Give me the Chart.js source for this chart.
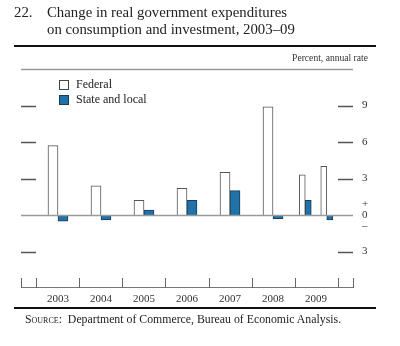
<!DOCTYPE html>
<html>
<head>
<meta charset="utf-8">
<script src="https://cdn.jsdelivr.net/npm/chart.js@4"></script>
<style>
  body { margin: 0; background: #fff; }
  #wrap { position: relative; width: 400px; height: 346px; font-family: "Liberation Serif", "DejaVu Serif", serif; color: #222; }
  #chart { position: absolute; left: 0; top: 0; }
  .title { position: absolute; top: 4px; font-size: 14.8px; line-height: 17px; }
  .rule { position: absolute; left: 14px; width: 362px; background: #111; }
  .unit { position: absolute; top: 52px; right: 32px; font-size: 9.6px; color: #333; }
  #legend { position: absolute; left: 59px; top: 77px; font-size: 12px; line-height: 15px; }
  #legend .item { display: flex; align-items: center; }
  #legend .box { width: 10px; height: 10px; margin-right: 7px; box-sizing: border-box; }
  .source { position: absolute; left: 25px; top: 312px; font-size: 11.8px; }
  .sc { font-variant: small-caps; }
</style>
</head>
<body>
<div id="wrap">
  <canvas id="chart" width="400" height="346"></canvas>
  <div class="title" style="left:14px">22.</div>
  <div class="title" style="left:47px">Change in real government expenditures<br>on consumption and investment, 2003–09</div>
  <div class="rule" style="top:45px;height:2px"></div>
  <div class="unit">Percent, annual rate</div>
  <div id="legend"></div>
  <div class="rule" style="top:307px;height:1.5px"></div>
  <div class="source"><span class="sc">Source</span>:&nbsp; Department of Commerce, Bureau of Economic Analysis.</div>
</div>
<script>
// Données annuelles 2003-2008
const years = [2003, 2004, 2005, 2006, 2007, 2008];
const federalAnnual = [5.7, 2.4, 1.2, 2.2, 3.5, 8.9];
const stateLocalAnnual = [-0.5, -0.4, 0.4, 1.2, 2.0, -0.3];

// 2009 par semestre (milieu de chaque semestre)
const halfYears = [2008.75, 2009.25];
const federalHalf = [3.3, 4.0];
const stateLocalHalf = [1.2, -0.4];

// Axes
const yearLabels = [2003, 2004, 2005, 2006, 2007, 2008, 2009];
const yTicks = [-3, 0, 3, 6, 9];

const seriesNames = ['Federal', 'State and local'];
const fedFill = '#ffffff', fedBorder = '#555555';
const slFill = '#1f73a8', slBorder = '#1a3d5c';

function points(xs, ys) {
    return xs.map(function(x, i) { return { x: x, y: ys[i] }; });
}

// Traits de décoration (lignes, graduations) dessinés avec les échelles
const decor = {
    id: 'decor',
    afterDatasetsDraw: function(chart) {
        const ctx = chart.ctx;
        const a = chart.chartArea;
        const xs = chart.scales.x;
        const ys = chart.scales.y;
        ctx.save();
        ctx.strokeStyle = '#9a9a9a';
        ctx.lineWidth = 1.5;
        [a.top, ys.getPixelForValue(0)].forEach(function(y) {
            ctx.beginPath();
            ctx.moveTo(a.left, Math.round(y) + 0.5);
            ctx.lineTo(a.right, Math.round(y) + 0.5);
            ctx.stroke();
        });
        ctx.strokeStyle = '#777';
        ctx.lineWidth = 1.2;
        ctx.beginPath();
        ctx.moveTo(a.left, a.bottom - 0.5);
        ctx.lineTo(a.right, a.bottom - 0.5);
        ctx.stroke();

        // graduations verticales entre les années
        const bounds = [xs.min, xs.max];
        yearLabels.forEach(function(y) { bounds.push(y - 0.5); });
        bounds.push(yearLabels[yearLabels.length - 1] + 0.5);
        ctx.strokeStyle = '#666';
        ctx.lineWidth = 1;
        bounds.forEach(function(v) {
            const px = Math.round(xs.getPixelForValue(v)) + 0.5;
            ctx.beginPath();
            ctx.moveTo(px, a.bottom - 10);
            ctx.lineTo(px, a.bottom);
            ctx.stroke();
        });

        // graduations horizontales gauche et droite
        ctx.strokeStyle = '#555';
        ctx.lineWidth = 1.3;
        yTicks.forEach(function(v) {
            if (v === 0) return;
            const py = Math.round(ys.getPixelForValue(v)) + 0.5;
            ctx.beginPath();
            ctx.moveTo(a.left, py);
            ctx.lineTo(a.left + 15, py);
            ctx.moveTo(a.right - 15, py);
            ctx.lineTo(a.right, py);
            ctx.stroke();
        });
        ctx.restore();
    }
};

const common = { borderWidth: 1, skipNull: true };

new Chart(document.getElementById('chart'), {
    type: 'bar',
    data: {
        datasets: [
            Object.assign({ label: seriesNames[0], data: points(years, federalAnnual), backgroundColor: fedFill, borderColor: fedBorder, barThickness: 10 }, common),
            Object.assign({ label: seriesNames[1], data: points(years, stateLocalAnnual), backgroundColor: slFill, borderColor: slBorder, barThickness: 10 }, common),
            Object.assign({ label: seriesNames[0] + ' (2009 H)', data: points(halfYears, federalHalf), backgroundColor: fedFill, borderColor: fedBorder, barThickness: 6 }, common),
            Object.assign({ label: seriesNames[1] + ' (2009 H)', data: points(halfYears, stateLocalHalf), backgroundColor: slFill, borderColor: slBorder, barThickness: 6 }, common)
        ]
    },
    options: {
        responsive: false,
        animation: false,
        layout: { padding: { left: 21, top: 69, right: 0, bottom: 38 } },
        plugins: { legend: { display: false }, tooltip: { enabled: false } },
        scales: {
            x: {
                type: 'linear',
                position: 'bottom',
                offset: false,
                min: 2002.14,
                max: 2009.86,
                grid: { display: false, drawTicks: false, offset: false },
                border: { display: false },
                afterBuildTicks: function(scale) {
                    scale.ticks = yearLabels.map(function(v) { return { value: v }; });
                },
                afterFit: function(scale) { scale.height = 20; },
                ticks: {
                    padding: 5,
                    autoSkip: false,
                    maxRotation: 0,
                    color: '#333',
                    font: { family: 'Liberation Serif', size: 11 },
                    callback: function(v) { return String(v); }
                }
            },
            y: {
                position: 'right',
                min: -6,
                max: 12,
                grid: { display: false, drawTicks: false },
                border: { display: false },
                afterBuildTicks: function(scale) {
                    scale.ticks = yTicks.map(function(v) { return { value: v }; });
                },
                afterFit: function(scale) { scale.width = 47; },
                ticks: {
                    padding: 9,
                    color: '#333',
                    font: { family: 'Liberation Serif', size: 11, lineHeight: 1 },
                    callback: function(v) { return v === 0 ? ['+', '0', '–'] : String(Math.abs(v)); }
                }
            }
        }
    },
    plugins: [decor]
});

// Légende HTML
const legend = document.getElementById('legend');
[[fedFill, '#444'], [slFill, slBorder]].forEach(function(c, i) {
    const item = document.createElement('div');
    item.className = 'item';
    item.innerHTML = '<span class="box" style="background:' + c[0] + ';border:1px solid ' + c[1] + '"></span>' + seriesNames[i];
    legend.appendChild(item);
});
</script>
</body>
</html>
